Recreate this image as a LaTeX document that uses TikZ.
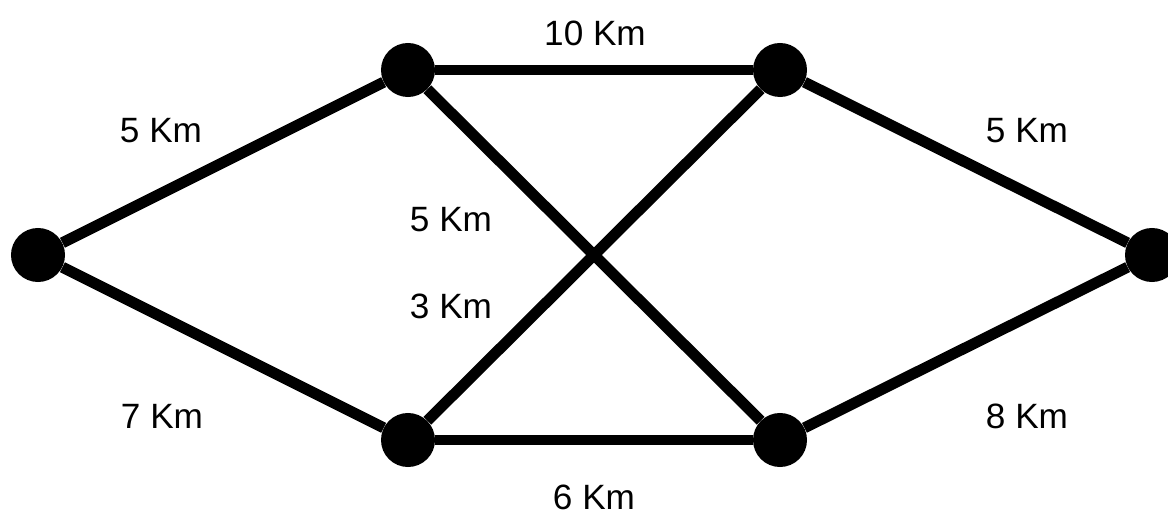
\documentclass[tikz,border=0pt]{standalone}
\usepackage{fontspec}
\setmainfont{Liberation Sans}

\begin{document}
\begin{tikzpicture}[x=0.025cm, y=-0.025cm,
  town/.style={circle, fill=black, minimum size=1.35cm, inner sep=0pt},
  road/.style={line width=7.8pt},
  dist/.style={font=\fontsize{25}{30}\selectfont, inner sep=0pt}]
  \useasboundingbox (0,0) rectangle (1168,517);
  % towns
  \node[town] (west) at (38,255) {};
  \node[town] (nw) at (408,70) {};
  \node[town] (ne) at (780,70) {};
  \node[town] (sw) at (408,440) {};
  \node[town] (se) at (780,440) {};
  \node[town] (east) at (1152,255) {};
  % roads
  \draw[road] (west) -- (nw);
  \draw[road] (west) -- (sw);
  \draw[road] (nw) -- (ne);
  \draw[road] (sw) -- (se);
  \draw[road] (nw) -- (se);
  \draw[road] (sw) -- (ne);
  \draw[road] (ne) -- (east);
  \draw[road] (se) -- (east);
  % distances
  \node[dist] (dwnw) at (161,131) {5 Km};
  \node[dist] (dwsw) at (162,416) {7 Km};
  \node[dist] (dtop) at (595,33) {10 Km};
  \node[dist] (dbot) at (594,497) {6 Km};
  \node[dist] (dnwse) at (451,220) {5 Km};
  \node[dist] (dswne) at (451,306) {3 Km};
  \node[dist] (dneea) at (1027,131) {5 Km};
  \node[dist] (dseea) at (1027,416) {8 Km};
\end{tikzpicture}
\end{document}
